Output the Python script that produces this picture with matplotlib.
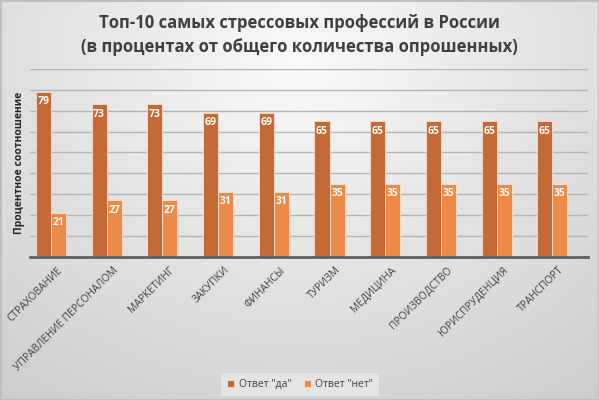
import numpy as np
import matplotlib
matplotlib.use("Agg")
import matplotlib.pyplot as plt

categories = ["СТРАХОВАНИЕ", "УПРАВЛЕНИЕ ПЕРСОНАЛОМ", "МАРКЕТИНГ", "ЗАКУПКИ", "ФИНАНСЫ",
              "ТУРИЗМ", "МЕДИЦИНА", "ПРОИЗВОДСТВО", "ЮРИСПРУДЕНЦИЯ", "ТРАНСПОРТ"]
yes_values = [79, 73, 73, 69, 69, 65, 65, 65, 65, 65]
no_values = [21, 27, 27, 31, 31, 35, 35, 35, 35, 35]
series_names = ['Ответ "да"', 'Ответ "нет"']
title = "Топ-10 самых стрессовых профессий в России\n(в процентах от общего количества опрошенных)"
ylabel = "Процентное соотношение"

plt.rcParams['font.family'] = ['Open Sans', 'DejaVu Sans']

W, H = 599, 400
fig = plt.figure(figsize=(W / 100, H / 100), dpi=100)

# background radial gradient
bg = fig.add_axes([0, 0, 1, 1], zorder=-10)
yy, xx = np.mgrid[0:H, 0:W]
r = np.sqrt(((xx - W * 0.5) / (W * 0.75)) ** 2 + ((yy - H * 0.15) / (H * 0.95)) ** 2)
val = 0.98 - 0.16 * np.clip(r, 0, 1.3)
img = np.dstack([val, val, val])
bg.imshow(img, aspect='auto', extent=[0, 1, 0, 1], origin='upper')
bg.set_xlim(0, 1); bg.set_ylim(0, 1)
bg.axis('off')
bg.plot([0, 1, 1, 0, 0], [0, 0, 1, 1, 0], color='#BDBDBD', lw=2, transform=bg.transAxes, clip_on=False)

ax = fig.add_axes([30 / W, 1 - 256.5 / H, 558 / W, (256.5 - 69) / H])
ax.patch.set_alpha(0)

x = np.arange(len(categories))
bw = 0.27
dark = '#C56A36'
light = '#EC8A47'
b1 = ax.bar(x - bw / 2, yes_values, bw, color=dark, edgecolor='#F2D9C8', linewidth=0.7,
            label=series_names[0], zorder=3)
b2 = ax.bar(x + bw / 2, no_values, bw, color=light, edgecolor='#F7DCC8', linewidth=0.7,
            label=series_names[1], zorder=3)

for bars, vals in ((b1, yes_values), (b2, no_values)):
    for rect, v in zip(bars, vals):
        ax.text(rect.get_x() + rect.get_width() / 2, v - 2.2, str(v), ha='center', va='top',
                color='white', fontsize=7.5, fontweight='bold', zorder=5)

ax.set_ylim(0, 90)
ax.set_xlim(-0.377, 9.64)
ax.set_yticks(np.arange(10, 91, 10))
ax.set_yticklabels([])
ax.tick_params(axis='y', length=0)
ax.grid(axis='y', color='#B5B5B5', linewidth=1.0, zorder=0)
for s in ['top', 'right', 'left']:
    ax.spines[s].set_visible(False)
ax.spines['bottom'].set_color('#606060')
ax.spines['bottom'].set_linewidth(2)
ax.spines['bottom'].set_zorder(4)

ax.set_xticks(x)
ax.set_xticklabels(categories, rotation=45, ha='right', rotation_mode='anchor',
                   fontsize=7.4, color='#404040')
ax.tick_params(axis='x', length=0, pad=6)
for lbl in ax.get_xticklabels():
    lbl.set_transform(lbl.get_transform() + matplotlib.transforms.ScaledTranslation(6 / 100, 0, fig.dpi_scale_trans))

fig.text(20 / W, 1 - 163 / H, ylabel, rotation=90, ha='center', va='center',
         fontsize=7.5, fontweight='bold', color='#262626')

fig.text(0.5, 1 - 35 / H, title, ha='center', va='center', fontsize=12,
         fontweight='bold', color='#404040', linespacing=1.5)

leg = fig.legend(loc='center', bbox_to_anchor=(300 / W, 1 - 384.5 / H), ncol=2, frameon=True,
                 fontsize=7.5, handlelength=0.7, handleheight=0.7, handletextpad=0.4,
                 columnspacing=1.2, fancybox=False, borderpad=0.6)
leg.get_frame().set_facecolor('#E8E8E8')
leg.get_frame().set_edgecolor('none')
for t in leg.get_texts():
    t.set_color('#404040')

fig.savefig('out.png', dpi=100)
